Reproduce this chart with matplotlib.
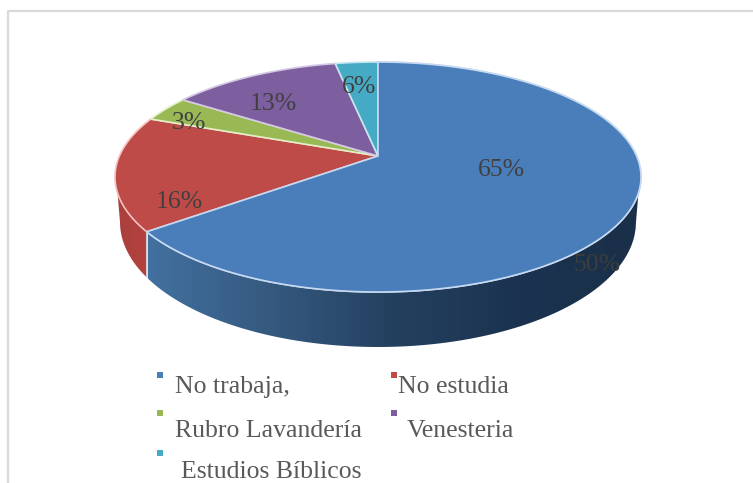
import numpy as np
import matplotlib
matplotlib.use('Agg')
import matplotlib.pyplot as plt
from matplotlib.patches import Polygon, Rectangle
from matplotlib.colors import LinearSegmentedColormap

categories = ['No trabaja,', 'No estudia', 'Rubro Lavandería', 'Venesteria', 'Estudios Bíblicos']
# share of the circle each slice really takes in the drawing (%)
shares = [67.1, 16.3, 3.3, 10.7, 2.6]
labels = ['65%', '16%', '3%', '13%', '6%']
stray_label = '50%'

colors = ['#4a7ebb', '#be4b48', '#98b954', '#7d5fa0', '#46aac4']
edges = ['#c6d9f0', '#f2c4c2', '#e3efc8', '#d5c8e4', '#c4e6ef']
label_pos = [(501, 170), (179, 202), (189, 123), (273, 104), (359, 87)]
legend_pos = [(175, 387), (398, 387), (175, 431), (407, 431), (181, 472)]
marker_pos = [(160, 375), (394, 375), (160, 413), (394, 413), (160, 453)]

# pie geometry in pixels
cx, cy, rx, ry = 378, 177, 263, 115
apex = (378, 156)
low_cy, low_rx, low_ry = 222, 258, 125
serif = 'Liberation Serif'

fig, ax = plt.subplots(figsize=(7.53, 4.83), dpi=100)
fig.subplots_adjust(0, 0, 1, 1)
ax.set_xlim(0, 753)
ax.set_ylim(483, 0)
ax.axis('off')

# outer frame, only top and left are visible
ax.plot([8.5, 8.5, 753], [483, 10.5, 10.5], color='#d9d9d9', lw=1.6, zorder=1)


def rim(t):
    return cx + rx * np.cos(t), cy - ry * np.sin(t)


def lower_rim(x):
    xb = np.clip(x, cx - low_rx, cx + low_rx)
    c = (xb - cx) / low_rx
    return xb, low_cy + low_ry * np.sqrt(1 - c ** 2)


def wall_points(t0, t1):
    # top rim one way, lower rim back
    t = np.linspace(t0, t1, 120)
    xt, yt = rim(t)
    xb, yb = lower_rim(xt)
    return np.r_[np.c_[xt, yt], np.c_[xb, yb][::-1]]


# slice boundaries, clockwise from twelve o'clock
bounds = np.pi / 2 - 2 * np.pi * np.cumsum([0] + shares) / sum(shares)
blue_end = bounds[1]
front_right = np.radians(-8)
front_left = np.radians(-172)

# side walls
wall_blue = LinearSegmentedColormap.from_list('b', ['#42709f', '#35597f', '#24405f', '#1b3350', '#1a3049'])
wall_red = LinearSegmentedColormap.from_list('r', ['#a83f3c', '#b8433f'])
grad = np.linspace(0, 1, 256).reshape(1, -1)

red_wall = Polygon(wall_points(blue_end, front_left), closed=True, fc='none', ec='none')
ax.add_patch(red_wall)
im = ax.imshow(grad, extent=(115, 155, 300, 170), cmap=wall_red, aspect='auto', zorder=2)
im.set_clip_path(red_wall)

blue_wall = Polygon(wall_points(blue_end, front_right), closed=True, fc='none', ec='none')
ax.add_patch(blue_wall)
im = ax.imshow(grad, extent=(148, 640, 350, 190), cmap=wall_blue, aspect='auto', zorder=2)
im.set_clip_path(blue_wall)
ax.set_xlim(0, 753)
ax.set_ylim(483, 0)

# light seam between the red and blue walls
sx, sy = rim(blue_end)
bx, by = lower_rim(sx)
ax.plot([sx, bx], [sy, by], color='#d5dde8', lw=1.2, zorder=2.5)

# top surface
for i in range(len(shares)):
    t = np.linspace(bounds[i], bounds[i + 1], 200)
    xt, yt = rim(t)
    pts = np.r_[[apex], np.c_[xt, yt]]
    ax.add_patch(Polygon(pts, closed=True, fc=colors[i], ec=edges[i], lw=1.2, zorder=3 + 0.1 * i))

# blue slice goes back on top so its light edge shows
t = np.linspace(bounds[0], bounds[1], 200)
xt, yt = rim(t)
ax.add_patch(Polygon(np.r_[[apex], np.c_[xt, yt]], closed=True, fc=colors[0], ec=edges[0], lw=1.2, zorder=4))

for txt, (x, y) in zip(labels, label_pos):
    ax.text(x, y, txt, ha='center', va='center', fontsize=18.5, color='#404040', family=serif, zorder=5)
ax.text(597, 265, stray_label, ha='center', va='center', fontsize=18.5, color='#3d3d3d', family=serif, zorder=5)

# legend
for i, name in enumerate(categories):
    mx, my = marker_pos[i]
    ax.add_patch(Rectangle((mx - 3, my - 3), 6, 6, fc=colors[i], ec='none', zorder=5))
    ax.text(legend_pos[i][0], legend_pos[i][1], name, ha='left', va='center', fontsize=18.5,
            color='#595959', family=serif, zorder=5)

plt.savefig('out.png', dpi=100)
plt.close()
